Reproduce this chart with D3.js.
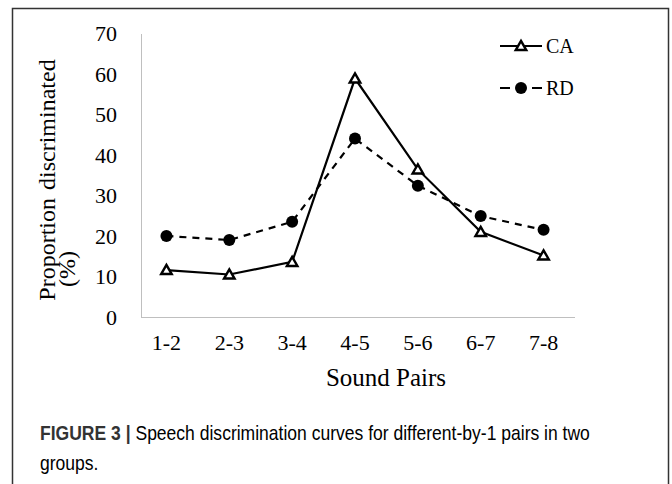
<!DOCTYPE html>
<html>
<head>
<meta charset="utf-8">
<script src="https://cdn.jsdelivr.net/npm/d3@7"></script>
<style>
	body { margin: 0; background: #fff; }
	text { fill: #000; }
</style>
</head>
<body>
<svg id="viz" width="672" height="484"></svg>
<script>
var pairs = [ '1-2', '2-3', '3-4', '4-5', '5-6', '6-7', '7-8' ];
var caValues = [ 11.7, 10.6, 13.7, 58.9, 36.5, 21.1, 15.3 ];
var rdValues = [ 20.1, 19.1, 23.6, 44.1, 32.5, 25.0, 21.6 ];
var yTicks = [ 0, 10, 20, 30, 40, 50, 60, 70 ];
var seriesNames = [ 'CA', 'RD' ];

var svg = d3.select( '#viz' );
var serif = '"Liberation Serif", "Times New Roman", serif';
var sans = '"Liberation Sans", Arial, sans-serif';

// frame round the figure
svg.append( 'rect' )
	.attr( 'x', 12.5 ).attr( 'y', 8.5 )
	.attr( 'width', 656 ).attr( 'height', 520 )
	.attr( 'fill', 'none' )
	.attr( 'stroke', '#333' )
	.attr( 'stroke-width', 1.5 );

var xScale = d3.scaleBand()
	.domain( pairs )
	.range( [ 135, 575 ] );

var yScale = d3.scaleLinear()
	.domain( [ 0, 70 ] )
	.range( [ 317.5, 33.5 ] );

var xMid = function ( d ) { return xScale( d ) + xScale.bandwidth() / 2; };

// axes, no tick marks
var xAxis = svg.append( 'g' )
	.attr( 'transform', 'translate(0,' + yScale( 0 ) + ')' )
	.call( d3.axisBottom( xScale ).tickSize( 0 ).tickPadding( 17 ) );
var yAxis = svg.append( 'g' )
	.attr( 'transform', 'translate(141,0)' )
	.call( d3.axisLeft( yScale ).tickValues( yTicks ).tickSize( 0 ).tickPadding( 24 ) );

xAxis.select( '.domain' ).remove();
xAxis.append( 'line' )
	.attr( 'x1', 141 ).attr( 'x2', 575 )
	.attr( 'stroke', '#bfbfbf' ).attr( 'stroke-width', 1 );
yAxis.select( '.domain' ).attr( 'stroke', '#bfbfbf' ).attr( 'stroke-width', 1 );

[ xAxis, yAxis ].forEach( function ( g ) {
	g.selectAll( 'text' )
		.style( 'font-family', serif )
		.style( 'font-size', '22px' )
		.attr( 'fill', '#000' );
} );

// axis titles
svg.append( 'text' )
	.attr( 'x', 386 )
	.attr( 'y', 386 )
	.attr( 'text-anchor', 'middle' )
	.style( 'font-family', serif )
	.style( 'font-size', '25px' )
	.text( 'Sound Pairs' );

svg.append( 'text' )
	.attr( 'transform', 'translate(55,180) rotate(-90)' )
	.attr( 'text-anchor', 'middle' )
	.style( 'font-family', serif )
	.style( 'font-size', '24px' )
	.style( 'word-spacing', '2px' )
	.text( 'Proportion discriminated' );
svg.append( 'text' )
	.attr( 'transform', 'translate(75,287) rotate(-90)' )
	.attr( 'text-anchor', 'start' )
	.style( 'font-family', serif )
	.style( 'font-size', '24px' )
	.text( '(%)' );

var line = d3.line()
	.x( function ( d, i ) { return xMid( pairs[i] ); } )
	.y( function ( d ) { return yScale( d ); } );

// RD dashed line with filled circles
svg.append( 'path' )
	.datum( rdValues )
	.attr( 'd', line )
	.attr( 'fill', 'none' )
	.attr( 'stroke', '#000' )
	.attr( 'stroke-width', 2.2 )
	.attr( 'stroke-dasharray', '7,6' );

// CA solid line with open triangles
svg.append( 'path' )
	.datum( caValues )
	.attr( 'd', line )
	.attr( 'fill', 'none' )
	.attr( 'stroke', '#000' )
	.attr( 'stroke-width', 2.2 );

svg.selectAll( 'circle.rd' )
	.data( rdValues )
	.enter()
	.append( 'circle' )
	.classed( 'rd', true )
	.attr( 'cx', function ( d, i ) { return xMid( pairs[i] ); } )
	.attr( 'cy', function ( d ) { return yScale( d ); } )
	.attr( 'r', 6 )
	.attr( 'fill', '#000' );

var triangle = d3.symbol().type( d3.symbolTriangle ).size( 48 );

svg.selectAll( 'path.ca' )
	.data( caValues )
	.enter()
	.append( 'path' )
	.classed( 'ca', true )
	.attr( 'd', triangle )
	.attr( 'transform', function ( d, i ) {
		return 'translate(' + xMid( pairs[i] ) + ',' + ( yScale( d ) + 1 ) + ')';
	} )
	.attr( 'fill', '#fff' )
	.attr( 'stroke', '#000' )
	.attr( 'stroke-width', 2.4 );

// legend
var legend = svg.append( 'g' ).attr( 'transform', 'translate(500,0)' );
var rows = [ 46, 88 ];

legend.append( 'line' )
	.attr( 'x1', 0 ).attr( 'x2', 42 )
	.attr( 'y1', rows[0] ).attr( 'y2', rows[0] )
	.attr( 'stroke', '#000' ).attr( 'stroke-width', 2.2 );
legend.append( 'path' )
	.attr( 'd', triangle )
	.attr( 'transform', 'translate(21,' + ( rows[0] + 1 ) + ')' )
	.attr( 'fill', '#fff' ).attr( 'stroke', '#000' ).attr( 'stroke-width', 2.4 );

legend.append( 'line' )
	.attr( 'x1', 0 ).attr( 'x2', 42 )
	.attr( 'y1', rows[1] ).attr( 'y2', rows[1] )
	.attr( 'stroke', '#000' ).attr( 'stroke-width', 2.2 )
	.attr( 'stroke-dasharray', '10,22,10' );
legend.append( 'circle' )
	.attr( 'cx', 21 ).attr( 'cy', rows[1] )
	.attr( 'r', 6 ).attr( 'fill', '#000' );

legend.selectAll( 'text.legend-label' )
	.data( seriesNames )
	.enter()
	.append( 'text' )
	.classed( 'legend-label', true )
	.attr( 'x', 46 )
	.attr( 'y', function ( d, i ) { return rows[i] + 7; } )
	.style( 'font-family', serif )
	.style( 'font-size', '20px' )
	.text( function ( d ) { return d; } );

// caption: the printed face is narrower than Liberation Sans, so squeeze it sideways
var caption = svg.append( 'text' )
	.attr( 'transform', 'translate(40,440) scale(0.835,1)' )
	.style( 'font-family', sans )
	.style( 'font-size', '21px' )
	.attr( 'fill', '#3a3a3a' );
caption.append( 'tspan' )
	.style( 'font-weight', 'bold' )
	.attr( 'fill', '#333' )
	.text( 'FIGURE 3 | ' );
caption.append( 'tspan' )
	.text( 'Speech discrimination curves for different-by-1 pairs in two' );
svg.append( 'text' )
	.attr( 'transform', 'translate(40,470) scale(0.835,1)' )
	.style( 'font-family', sans )
	.style( 'font-size', '21px' )
	.attr( 'fill', '#3a3a3a' )
	.text( 'groups.' );
</script>
</body>
</html>
